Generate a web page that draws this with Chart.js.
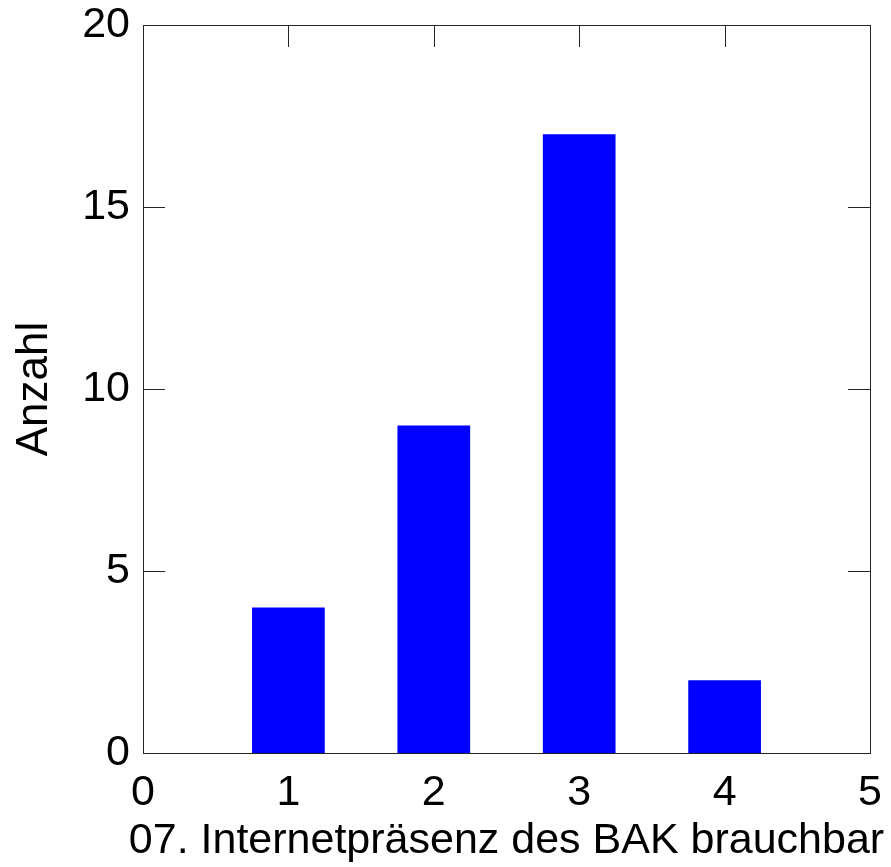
<!DOCTYPE html>
<html>
<head>
<meta charset="utf-8">
<script src="https://cdn.jsdelivr.net/npm/chart.js@4"></script>
<style>
html,body{margin:0;padding:0;background:#fff;}
#wrap{width:891px;height:867px;position:relative;}
</style>
</head>
<body>
<div id="wrap"><canvas id="c" width="891" height="867"></canvas></div>
<script>
const categories = [1, 2, 3, 4];
const counts = [4, 9, 17, 2];
const xTicks = [0, 1, 2, 3, 4, 5];
const yTicks = [0, 5, 10, 15, 20];
const xTitle = "07. Internetpräsenz des BAK brauchbar";
const yTitle = "Anzahl";

const FONT = "'Liberation Sans', Arial, sans-serif";
const LINE = '#262626';
const TICKLEN = 22;

const boxTicks = {
  id: 'boxTicks',
  afterLayout(chart) {
    // let the x-axis title use its natural width (it overflows the plot box, as in the reference)
    const x = chart.scales.x;
    x.left -= 80;
    x.right += 80;
  },
  beforeDatasetsDraw(chart) {
    const {ctx, chartArea: a, scales: {x, y}} = chart;
    ctx.save();
    ctx.strokeStyle = LINE;
    ctx.lineWidth = 1;
    ctx.beginPath();
    xTicks.forEach(v => {
      const px = Math.round(x.getPixelForValue(v)) + 0.5;
      ctx.moveTo(px, a.bottom); ctx.lineTo(px, a.bottom - TICKLEN);
      ctx.moveTo(px, a.top); ctx.lineTo(px, a.top + TICKLEN);
    });
    yTicks.forEach(v => {
      const py = Math.round(y.getPixelForValue(v)) + 0.5;
      ctx.moveTo(a.left, py); ctx.lineTo(a.left + TICKLEN, py);
      ctx.moveTo(a.right, py); ctx.lineTo(a.right - TICKLEN, py);
    });
    ctx.stroke();
    ctx.restore();
  },
  afterDatasetsDraw(chart) {
    const {ctx, chartArea: a} = chart;
    ctx.save();
    ctx.strokeStyle = LINE;
    ctx.lineWidth = 1;
    ctx.strokeRect(Math.round(a.left) + 0.5, Math.round(a.top) + 0.5,
                   Math.round(a.right - a.left), Math.round(a.bottom - a.top));
    ctx.restore();
  }
};

new Chart(document.getElementById('c'), {
  type: 'bar',
  data: {
    datasets: [{
      data: categories.map((c, i) => ({x: c, y: counts[i]})),
      backgroundColor: '#0000ff',
      borderWidth: 0,
      barPercentage: 0.5,
      categoryPercentage: 1.0
    }]
  },
  options: {
    responsive: false,
    animation: false,
    events: [],
    layout: {padding: {top: 25, right: 21, left: 0, bottom: 0}},
    plugins: {legend: {display: false}, tooltip: {enabled: false}},
    scales: {
      x: {
        type: 'linear',
        offset: false,
        min: 0, max: 5,
        afterBuildTicks: s => { s.ticks = xTicks.map(v => ({value: v})); },
        afterFit: s => { s.height = 114; s.paddingLeft = 0; s.paddingRight = 0; },
        grid: {display: false, drawTicks: false, offset: false},
        border: {display: false},
        ticks: {color: '#000', font: {family: FONT, size: 43}, padding: 14, maxRotation: 0, autoSkip: false},
        title: {display: true, text: xTitle, color: '#000', font: {family: FONT, size: 43}, padding: {top: 0, bottom: 0}}
      },
      y: {
        type: 'linear',
        min: 0, max: 20,
        afterBuildTicks: s => { s.ticks = yTicks.map(v => ({value: v})); },
        afterFit: s => { s.width = 143; s.paddingTop = 0; s.paddingBottom = 0; },
        grid: {display: false, drawTicks: false},
        border: {display: false},
        ticks: {color: '#000', font: {family: FONT, size: 43}, padding: 13},
        title: {display: true, text: yTitle, color: '#000', font: {family: FONT, size: 44}, padding: {top: 8, bottom: 0}}
      }
    }
  },
  plugins: [boxTicks]
});
</script>
</body>
</html>
